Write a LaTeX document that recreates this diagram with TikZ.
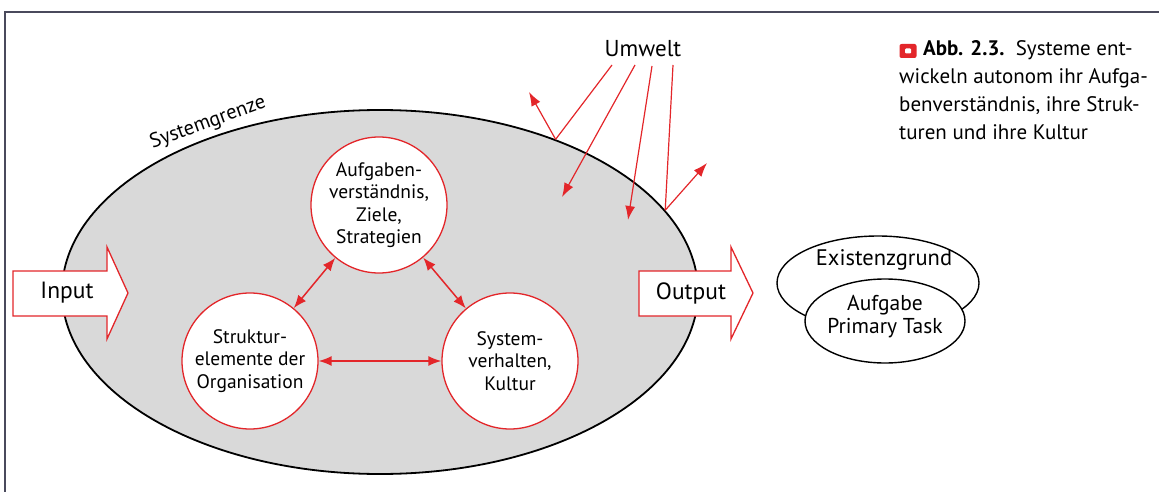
\documentclass[tikz,border=0pt]{standalone}
\usepackage{fontspec}
\setmainfont{PT Sans}
\usetikzlibrary{arrows.meta,shapes.geometric}
\definecolor{figred}{HTML}{E3262A}
\definecolor{sysgray}{HTML}{D9D9D9}
\definecolor{framecol}{HTML}{4A4A5C}
\begin{document}
\begin{tikzpicture}[x=1pt,y=-1pt,
  sysell/.style={ellipse,draw=black,line width=1.8pt,fill=sysgray,
    minimum width=636pt,minimum height=364pt,inner sep=0pt},
  topic/.style={circle,draw=figred,line width=1.3pt,fill=white,
    minimum size=136pt,inner sep=0pt,align=center,
    font=\fontsize{19.5}{22.5}\selectfont},
  iobox/.style={draw=figred,line width=1.3pt,fill=white,line join=miter},
  iotext/.style={font=\fontsize{23.5}{26}\selectfont},
  link/.style={figred,line width=1.5pt,{Latex[length=13pt,width=10pt]}-{Latex[length=13pt,width=10pt]}},
  envline/.style={figred,line width=1.2pt},
  envarrow/.style={figred,line width=1.2pt,-{Latex[length=14pt,width=10pt]}},
  oval/.style={ellipse,draw=black,line width=1.4pt,fill=white,inner sep=0pt},
  plain/.style={font=\fontsize{22.5}{23}\selectfont,align=center}
]
\useasboundingbox (0,0) rectangle (1159,492);

% frame
\draw[framecol,line width=2pt] (5,492) -- (5,12) -- (1159,12);

% system with its boundary
\node[sysell] (sys) at (380,292) {};
\node[rotate=20,font=\fontsize{20.5}{22}\selectfont] (grenze) at (208,123) {Systemgrenze};

% input and output arrows
\draw[iobox] (13,271) -- (107,271) -- (107,247) -- (128,293) -- (107,339) -- (107,316) -- (13,316) -- cycle;
\node[iotext] (in) at (67,293) {Input};
\draw[iobox] (639,271) -- (731,271) -- (731,247) -- (753,293) -- (731,339) -- (731,316) -- (639,316) -- cycle;
\node[iotext] (out) at (691,293) {Output};

% the three inner elements
\node[topic] (ziele) at (379,205) {Aufgaben-\\verständnis,\\Ziele,\\Strategien};
\node[topic] (struk) at (250,361) {Struktur-\\elemente der\\Organisation};
\node[topic] (kult) at (510,361) {System-\\verhalten,\\Kultur};
\draw[link] (ziele) -- (struk);
\draw[link] (ziele) -- (kult);
\draw[link] (struk) -- (kult);

% environment
\node[font=\fontsize{23}{26}\selectfont] (umwelt) at (643,49) {Umwelt};
\coordinate (u1) at (612,65);
\coordinate (u2) at (635,65);
\coordinate (u3) at (652,66);
\coordinate (u4) at (673,65);
\coordinate (b1) at (sys.41.7);
\coordinate (b2) at (sys.16.5);
\coordinate (e1) at (529,92);
\coordinate (e2) at (562,197);
\coordinate (e3) at (628,220);
\coordinate (e4) at (707,163);
\draw[envline] (u1) -- (b1);
\draw[envarrow] (b1) -- (e1);
\draw[envarrow] (u2) -- (e2);
\draw[envarrow] (u3) -- (e3);
\draw[envline] (u4) -- (b2);
\draw[envarrow] (b2) -- (e4);

% reason for existence
\node[oval,minimum width=202pt,minimum height=94pt] (grund) at (878,283) {};
\node[plain] (grundtext) at (884,260) {Existenzgrund};
\node[oval,minimum width=160pt,minimum height=84pt] (task) at (885,321) {};
\node[plain,font=\fontsize{21.5}{23}\selectfont] (tasktext) at (885,317) {Aufgabe\\Primary Task};

% caption
\node[fill=figred,rounded corners=2pt,minimum width=17pt,minimum height=14pt,inner sep=0pt] (icon) at (908,51) {};
\node[fill=white,rounded corners=1pt,minimum width=6pt,minimum height=5pt,inner sep=0pt] (icondot) at (icon) {};
\node[anchor=north west,align=left,inner sep=0pt,
  font=\fontsize{21}{28}\selectfont] (caption) at (899,40)
  {\hspace{24pt}\textbf{Abb. 2.3.}\ \ Systeme ent-\\wickeln autonom ihr Aufga-\\benverständnis, ihre Struk-\\turen und ihre Kultur};
\end{tikzpicture}
\end{document}
